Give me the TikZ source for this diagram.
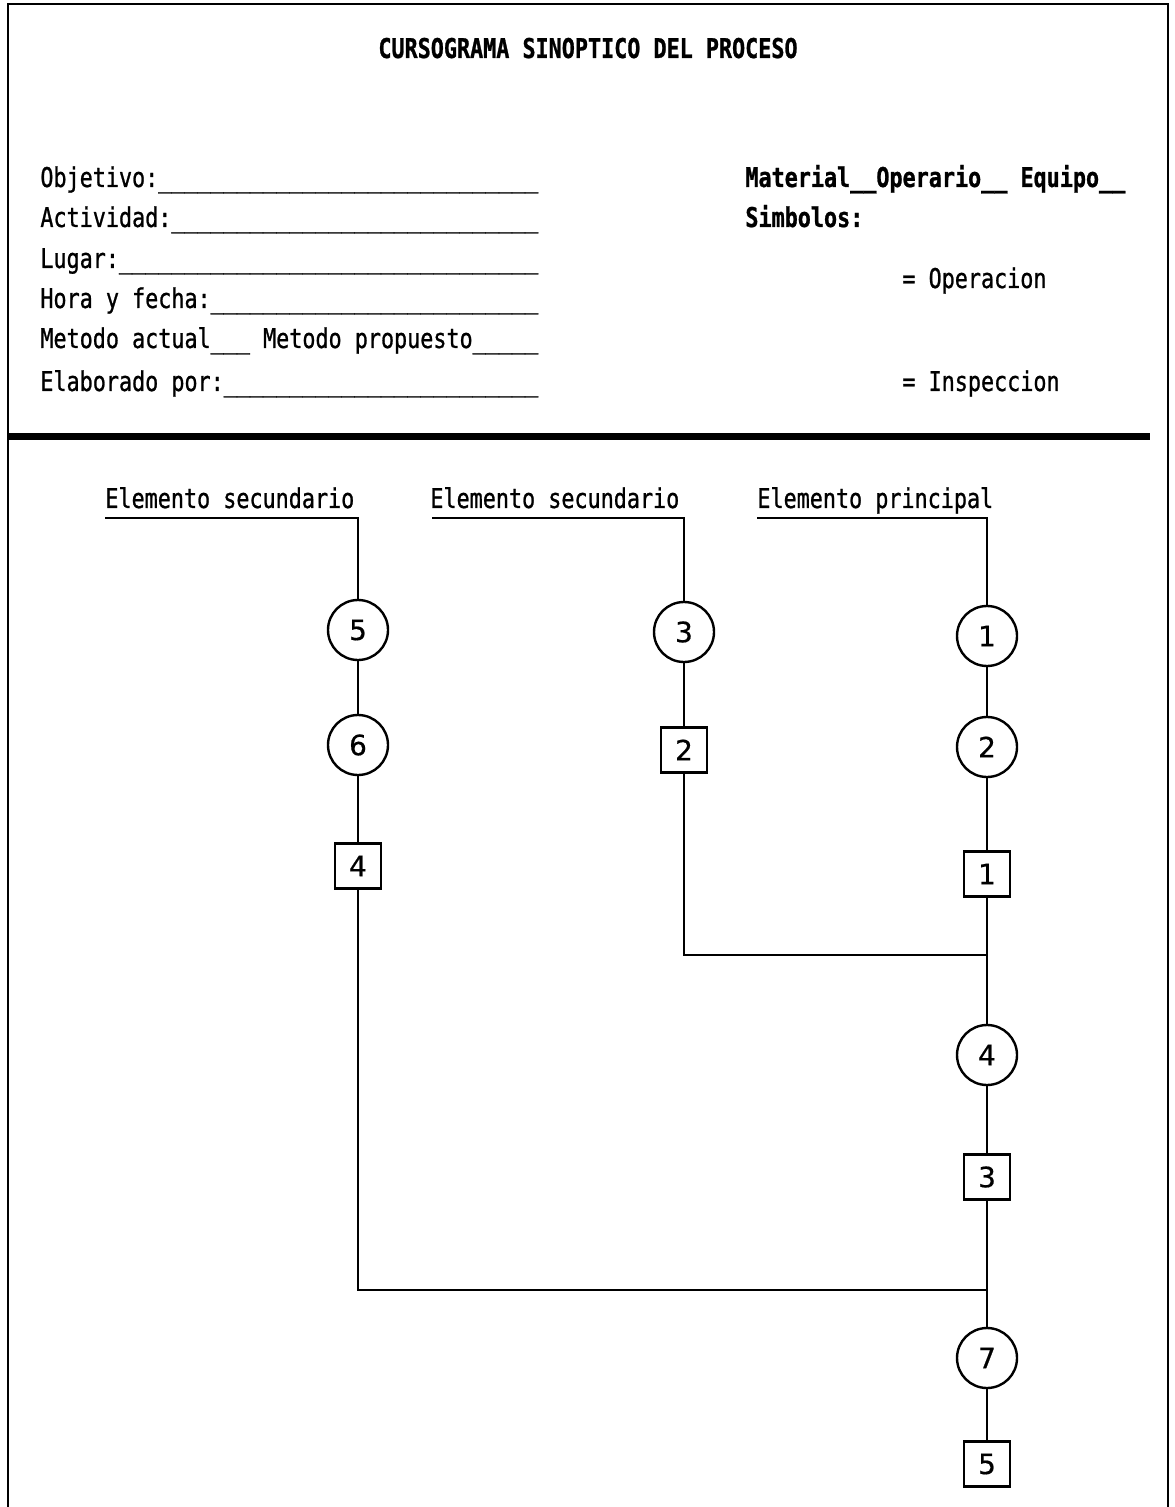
\documentclass[tikz,border=0pt]{standalone}
\usepackage{fontspec}
\newfontfamily\formfont[FakeStretch=0.8,FakeBold=0.9]{DejaVu Sans Mono}
\newfontfamily\digitfont[FakeBold=0.6]{DejaVu Sans}
% a run of #1 underscores, used for the blanks of the form
\newcommand{\blankrun}[1]{\count255=0 \loop\ifnum\count255<#1 \_\advance\count255 by 1 \repeat}
\begin{document}
\begin{tikzpicture}[x=0.5pt,y=-0.5pt,
  field/.style={anchor=base west, inner sep=0pt, font=\formfont\fontsize{13.6}{16}\selectfont},
  boldfield/.style={field, font=\formfont\bfseries\fontsize{13.6}{16}\selectfont},
  heading/.style={field, anchor=base, font=\formfont\bfseries\fontsize{13.6}{16}\selectfont},
  opcircle/.style={circle, draw, line width=1.2pt, minimum size=30pt, inner sep=0pt, fill=white,
    font=\digitfont\fontsize{14}{16}\selectfont},
  inspbox/.style={rectangle, draw, line width=1.2pt, minimum width=23pt, minimum height=22.5pt,
    inner sep=0pt, fill=white, font=\digitfont\fontsize{14}{16}\selectfont},
  flow/.style={line width=1.4pt},
  frame/.style={line width=1pt}]

\useasboundingbox (0,0) rectangle (1174,1507);

% sheet frame and the heavy rule under the header
\draw[frame] (8,1507) -- (8,4) -- (1168,4) -- (1168,1507);
\draw[line width=3.5pt] (8,437) -- (1150,437);

% title
\node[heading] (title) at (588,58) {CURSOGRAMA SINOPTICO DEL PROCESO};

% header fields, left column
\node[field] (obj) at (40,187) {Objetivo:\blankrun{29}};
\node[field] (act) at (40,227) {Actividad:\blankrun{28}};
\node[field] (lug) at (40,268) {Lugar:\blankrun{32}};
\node[field] (hora) at (40,308) {Hora y fecha:\blankrun{25}};
\node[field] (met) at (40,348) {Metodo actual\blankrun{3} Metodo propuesto\blankrun{5}};
\node[field] (elab) at (40,391) {Elaborado por:\blankrun{24}};

% header fields, right column
\node[boldfield] (mat) at (745,187) {Material\blankrun{2}Operario\blankrun{2} Equipo\blankrun{2}};
\node[boldfield] (simb) at (745,227) {Simbolos:};
\node[field] (oper) at (902,288) {= Operacion};
\node[field] (insp) at (902,391) {= Inspeccion};

% column headings with their lead-in rules
\node[field] (sec1) at (105,508) {Elemento secundario};
\node[field] (sec2) at (430,508) {Elemento secundario};
\node[field] (prin) at (757,508) {Elemento principal};
\coordinate (a1) at (105,518); \coordinate (b1) at (358,518);
\coordinate (a2) at (432,518); \coordinate (b2) at (684,518);
\coordinate (a3) at (757,518); \coordinate (b3) at (987,518);

% left secondary element
\node[opcircle] (c5) at (358,630) {5};
\node[opcircle] (c6) at (358,745) {6};
\node[inspbox] (s4) at (358,866) {4};

% middle secondary element
\node[opcircle] (c3) at (684,632) {3};
\node[inspbox] (s2) at (684,750) {2};

% main element
\node[opcircle] (c1) at (987,636) {1};
\node[opcircle] (c2) at (987,747) {2};
\node[inspbox] (s1) at (987,874) {1};
\node[opcircle] (c4) at (987,1055) {4};
\node[inspbox] (s3) at (987,1177) {3};
\node[opcircle] (c7) at (987,1358) {7};
\node[inspbox] (s5) at (987,1464) {5};

% junctions on the main line
\coordinate (j1) at (987,955);
\coordinate (j2) at (987,1290);

% flow lines
\draw[flow] (a1) -- (b1) -- (c5);
\draw[flow] (c5) -- (c6);
\draw[flow] (c6) -- (s4);
\draw[flow] (s4) |- (j2);

\draw[flow] (a2) -- (b2) -- (c3);
\draw[flow] (c3) -- (s2);
\draw[flow] (s2) |- (j1);

\draw[flow] (a3) -- (b3) -- (c1);
\draw[flow] (c1) -- (c2);
\draw[flow] (c2) -- (s1);
\draw[flow] (s1) -- (c4);
\draw[flow] (c4) -- (s3);
\draw[flow] (s3) -- (c7);
\draw[flow] (c7) -- (s5);
\end{tikzpicture}
\end{document}
